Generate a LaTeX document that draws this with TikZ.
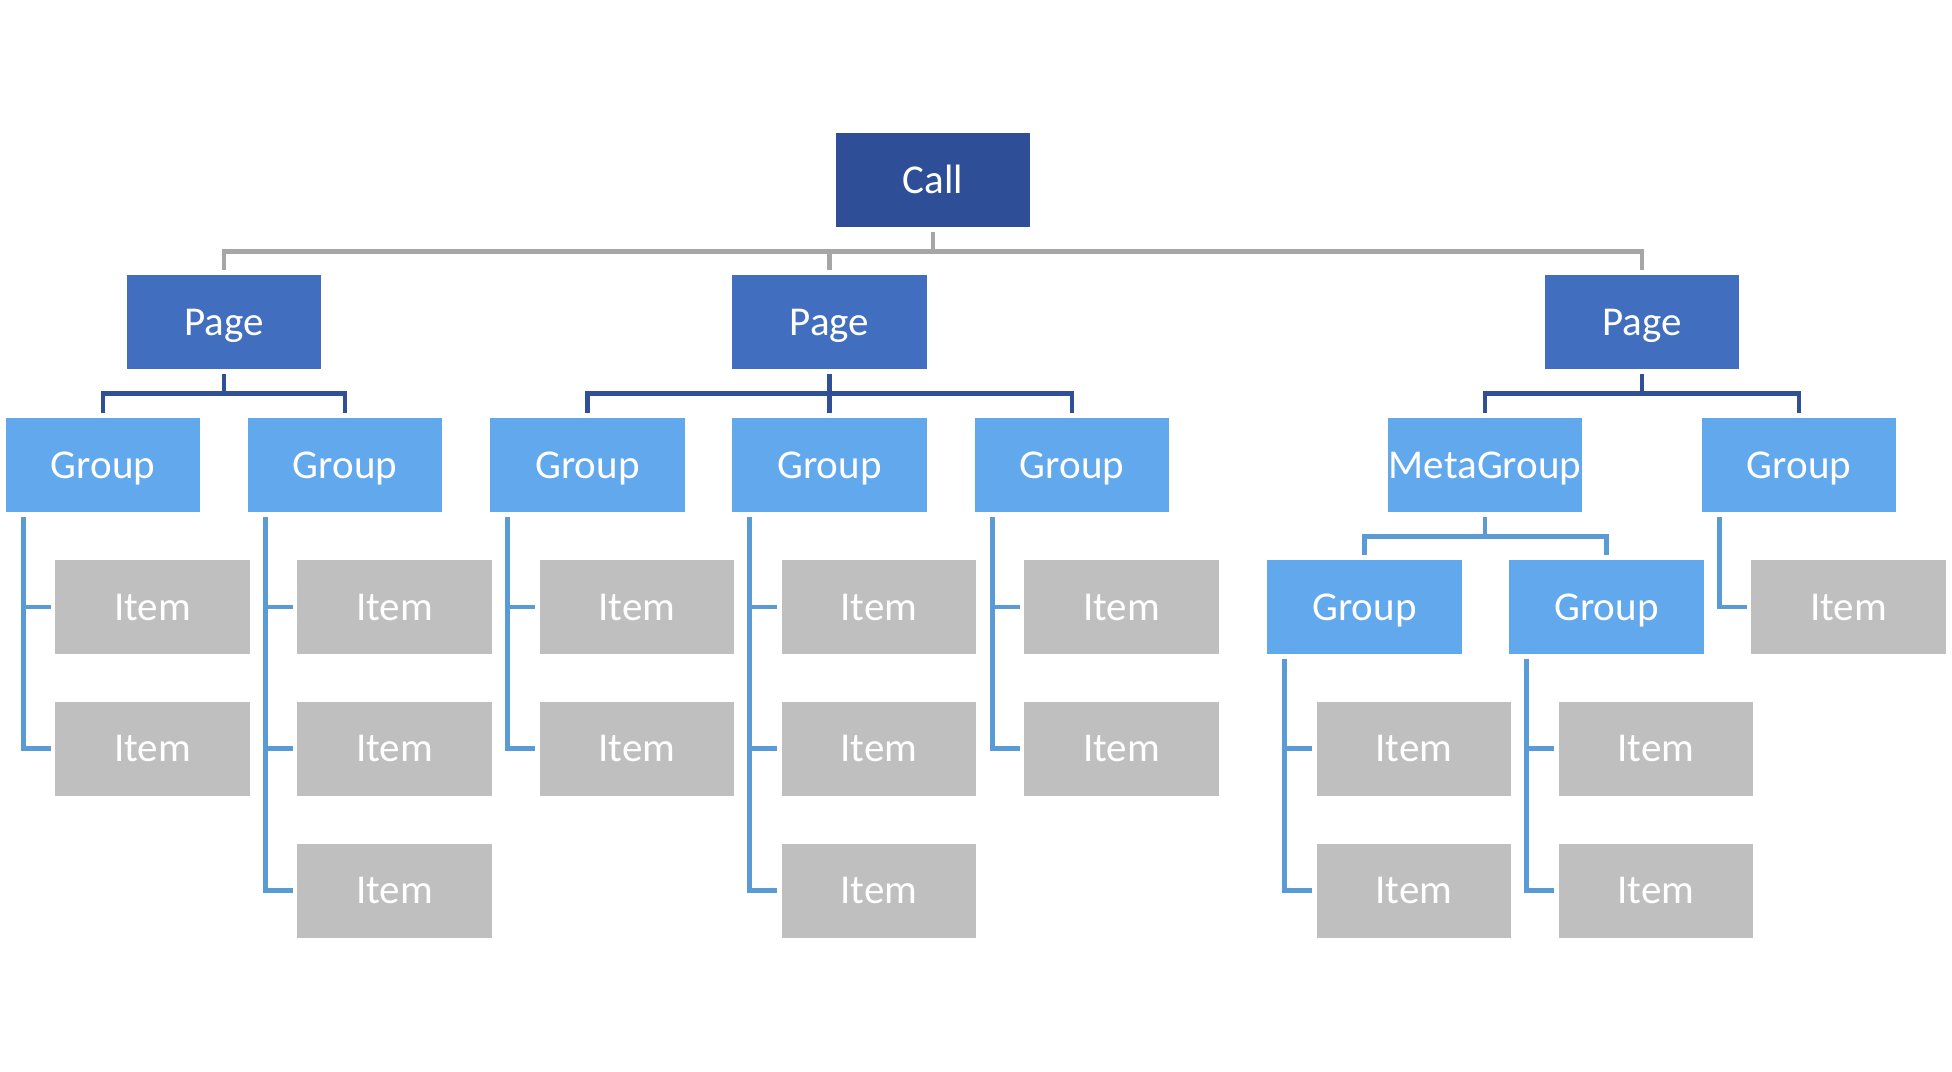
\documentclass[tikz,border=0pt]{standalone}
\usepackage{fontspec}
\setmainfont{Carlito}
\definecolor{callc}{HTML}{2E4F97}
\definecolor{pagec}{HTML}{416EBF}
\definecolor{groupc}{HTML}{62A8EC}
\definecolor{itemc}{HTML}{BFBFBF}
\definecolor{grayln}{HTML}{A6A6A6}
\definecolor{dbln}{HTML}{2F5096}
\definecolor{lbln}{HTML}{5B9BD5}
\begin{document}
\begin{tikzpicture}[x=0.5pt,y=-0.5pt,
  box/.style={rectangle,inner sep=0pt,minimum width=97.25pt,minimum height=47pt,
    text=white,font=\fontsize{20.5}{24}\selectfont,text height=13.3pt,text depth=0pt},
  callbox/.style={box,fill=callc},
  pagebox/.style={box,fill=pagec},
  groupbox/.style={box,fill=groupc},
  itembox/.style={box,fill=itemc},
  gl/.style={draw=grayln,line width=2.4pt},
  dl/.style={draw=dbln,line width=2.4pt},
  ll/.style={draw=lbln,line width=2.4pt}]
\useasboundingbox (0,0) rectangle (1952,1071);
% nodes
\node[callbox] (call) at (933,180) {Call};
\node[pagebox] (pL) at (224,322) {Page};
\node[pagebox] (pM) at (829.5,322) {Page};
\node[pagebox] (pR) at (1642,322) {Page};
\node[groupbox] (g1) at (103,465) {Group};
\node[groupbox] (g2) at (345,465) {Group};
\node[groupbox] (g3) at (587.5,465) {Group};
\node[groupbox] (g4) at (829.5,465) {Group};
\node[groupbox] (g5) at (1072,465) {Group};
\node[groupbox] (mg) at (1485,465) {MetaGroup};
\node[groupbox] (gR) at (1799,465) {Group};
\node[groupbox] (sa) at (1364.5,607) {Group};
\node[groupbox] (sb) at (1606.5,607) {Group};
% items
\node[itembox] (i1a) at (152.5,607) {Item};
\node[itembox] (i1b) at (152.5,748.5) {Item};
\node[itembox] (i2a) at (394.5,607) {Item};
\node[itembox] (i2b) at (394.5,748.5) {Item};
\node[itembox] (i2c) at (394.5,890.5) {Item};
\node[itembox] (i3a) at (637,607) {Item};
\node[itembox] (i3b) at (637,748.5) {Item};
\node[itembox] (i4a) at (879,607) {Item};
\node[itembox] (i4b) at (879,748.5) {Item};
\node[itembox] (i4c) at (879,890.5) {Item};
\node[itembox] (i5a) at (1121.5,607) {Item};
\node[itembox] (i5b) at (1121.5,748.5) {Item};
\node[itembox] (iRa) at (1848.5,607) {Item};
\node[itembox] (iaa) at (1414,748.5) {Item};
\node[itembox] (iab) at (1414,890.5) {Item};
\node[itembox] (iba) at (1656,748.5) {Item};
\node[itembox] (ibb) at (1656,890.5) {Item};
% Call -> pages
\coordinate (barA) at (0,251.5);
\draw[gl] ([yshift=-2.5pt]call.south) -- (call.south |- barA);
\draw[gl] ([yshift=2.5pt]pL.north) -- (pL.north |- barA) -- (pR.north |- barA) -- ([yshift=2.5pt]pR.north);
\draw[gl] (pM.north |- barA) -- ([yshift=2.5pt]pM.north);
% pages -> groups
\coordinate (barB) at (0,393.5);
\draw[dl] ([yshift=-2.5pt]pL.south) -- (pL.south |- barB);
\draw[dl] ([yshift=2.5pt]g1.north) -- (g1.north |- barB) -- (g2.north |- barB) -- ([yshift=2.5pt]g2.north);
\draw[dl] ([yshift=-2.5pt]pM.south) -- ([yshift=2.5pt]g4.north);
\draw[dl] ([yshift=2.5pt]g3.north) -- (g3.north |- barB) -- (g5.north |- barB) -- ([yshift=2.5pt]g5.north);
\draw[dl] ([yshift=-2.5pt]pR.south) -- (pR.south |- barB);
\draw[dl] ([yshift=2.5pt]mg.north) -- (mg.north |- barB) -- (gR.north |- barB) -- ([yshift=2.5pt]gR.north);
% metagroup -> subgroups
\coordinate (barC) at (0,536.5);
\draw[ll] ([yshift=-2.5pt]mg.south) -- (mg.south |- barC);
\draw[ll] ([yshift=2.5pt]sa.north) -- (sa.north |- barC) -- (sb.north |- barC) -- ([yshift=2.5pt]sb.north);
% group -> items
\coordinate (v1) at ([xshift=9pt,yshift=-2.5pt]g1.south west);
\draw[ll] (v1) |- ([xshift=-2pt]i1b.west);
\draw[ll] (v1 |- i1a.west) -- ([xshift=-2pt]i1a.west);
\coordinate (v2) at ([xshift=9pt,yshift=-2.5pt]g2.south west);
\draw[ll] (v2) |- ([xshift=-2pt]i2c.west);
\draw[ll] (v2 |- i2a.west) -- ([xshift=-2pt]i2a.west);
\draw[ll] (v2 |- i2b.west) -- ([xshift=-2pt]i2b.west);
\coordinate (v3) at ([xshift=9pt,yshift=-2.5pt]g3.south west);
\draw[ll] (v3) |- ([xshift=-2pt]i3b.west);
\draw[ll] (v3 |- i3a.west) -- ([xshift=-2pt]i3a.west);
\coordinate (v4) at ([xshift=9pt,yshift=-2.5pt]g4.south west);
\draw[ll] (v4) |- ([xshift=-2pt]i4c.west);
\draw[ll] (v4 |- i4a.west) -- ([xshift=-2pt]i4a.west);
\draw[ll] (v4 |- i4b.west) -- ([xshift=-2pt]i4b.west);
\coordinate (v5) at ([xshift=9pt,yshift=-2.5pt]g5.south west);
\draw[ll] (v5) |- ([xshift=-2pt]i5b.west);
\draw[ll] (v5 |- i5a.west) -- ([xshift=-2pt]i5a.west);
\coordinate (vR) at ([xshift=9.25pt,yshift=-2.5pt]gR.south west);
\draw[ll] (vR) |- ([xshift=-2pt]iRa.west);
\coordinate (va) at ([xshift=9pt,yshift=-2.5pt]sa.south west);
\draw[ll] (va) |- ([xshift=-2pt]iab.west);
\draw[ll] (va |- iaa.west) -- ([xshift=-2pt]iaa.west);
\coordinate (vb) at ([xshift=9pt,yshift=-2.5pt]sb.south west);
\draw[ll] (vb) |- ([xshift=-2pt]ibb.west);
\draw[ll] (vb |- iba.west) -- ([xshift=-2pt]iba.west);
\end{tikzpicture}
\end{document}
